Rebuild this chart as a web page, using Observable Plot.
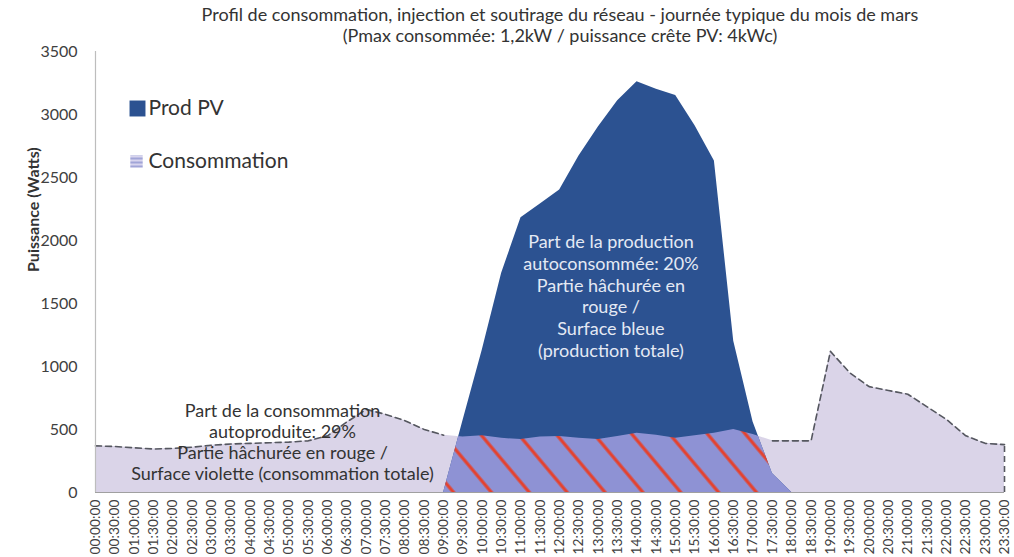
<!DOCTYPE html>
<html><head><meta charset="utf-8">
<script src="https://cdn.jsdelivr.net/npm/d3@7"></script>
<script src="https://cdn.jsdelivr.net/npm/@observablehq/plot@0.6"></script>
<style>
body{margin:0;background:#fff;}
#chart svg{display:block;}
</style></head><body>
<svg width="0" height="0" style="position:absolute">
<defs>
<pattern id="hatch" patternUnits="userSpaceOnUse" width="29" height="29" patternTransform="rotate(-40)">
<rect width="29" height="29" fill="#8e92d4"/>
<line x1="2" y1="0" x2="2" y2="29" stroke="#e5412d" stroke-width="3.2"/>
</pattern>
<pattern id="legendHatch" patternUnits="userSpaceOnUse" width="4" height="4">
<rect width="4" height="4" fill="#d8d5ee"/>
<line x1="0" y1="1" x2="4" y2="1" stroke="#7d86c9" stroke-width="1.2"/>
</pattern>
</defs></svg>
<div id="chart"></div>
<script>
const times = ["00:00:00","00:30:00","01:00:00","01:30:00","02:00:00","02:30:00","03:00:00","03:30:00",
"04:00:00","04:30:00","05:00:00","05:30:00","06:00:00","06:30:00","07:00:00","07:30:00",
"08:00:00","08:30:00","09:00:00","09:30:00","10:00:00","10:30:00","11:00:00","11:30:00",
"12:00:00","12:30:00","13:00:00","13:30:00","14:00:00","14:30:00","15:00:00","15:30:00",
"16:00:00","16:30:00","17:00:00","17:30:00","18:00:00","18:30:00","19:00:00","19:30:00",
"20:00:00","20:30:00","21:00:00","21:30:00","22:00:00","22:30:00","23:00:00","23:30:00"];

// Consommation (W)
const consommation = [370,365,355,345,350,360,375,385,390,395,400,410,450,560,660,620,
570,500,455,440,450,430,420,440,445,430,420,445,470,455,430,450,
470,500,460,410,410,410,1120,950,840,810,780,680,580,450,390,380];

// Production PV (W)
const prodPV = [0,0,0,0,0,0,0,0,0,0,0,0,0,0,0,0,
0,0,0,570,1130,1740,2180,2290,2400,2670,2900,3110,3260,3200,3150,2910,
2630,1200,560,150,0,0,0,0,0,0,0,0,0,0,0,0];

const yTicks = [0,500,1000,1500,2000,2500,3000,3500];

const titre = "Profil de consommation, injection et soutirage du réseau - journée typique du mois de mars\n(Pmax consommée: 1,2kW / puissance crête PV: 4kWc)";
const noteConso = "Part de la consommation\nautoproduite: 29%\nPartie hâchurée en rouge /\nSurface violette (consommation totale)";
const noteProd = "Part de la production\nautoconsommée: 20%\nPartie hâchurée en\nrouge /\nSurface bleue\n(production totale)";
const legendLabels = ["Prod PV", "Consommation"];

const rows = times.map((t, i) => ({i, t, cons: consommation[i], pv: prodPV[i]}));

const chart = Plot.plot({
  width: 1014,
  height: 557,
  marginLeft: 95,
  marginRight: 10,
  marginTop: 51,
  marginBottom: 65,
  x: {domain: [0, times.length - 1], axis: null},
  y: {domain: [0, 3500], axis: null},
  style: {fontFamily: "Lato, sans-serif", background: "#fff", overflow: "visible"},
  marks: [
    Plot.areaY(rows, {x: "i", y: "cons", fill: "#dad4e8"}),
    Plot.areaY(rows, {x: "i", y: "pv", fill: "#2c5291"}),
    Plot.areaY(rows, {x: "i", y: "pv", fill: "url(#hatch)"}),
    Plot.lineY(rows, {x: "i", y: d => d.pv > d.cons ? NaN : d.cons, stroke: "#55575f", strokeWidth: 1.6, strokeDasharray: "6,4"}),
    Plot.ruleX([times.length - 1], {y1: 0, y2: consommation[consommation.length - 1], stroke: "#55575f", strokeWidth: 1.6, strokeDasharray: "6,4"}),
    Plot.ruleY([0], {stroke: "#a0a0a0", strokeWidth: 1.2}),
    Plot.ruleX([0], {y1: 0, y2: 3500, stroke: "#bdbdbd", strokeWidth: 1.2}),
    Plot.axisY({ticks: yTicks, tickFormat: d => String(d), tickSize: 0, tickPadding: 18, fontSize: 16, fill: "#404040", label: null}),
    Plot.axisX({ticks: d3.range(times.length), tickFormat: i => times[i], tickRotate: -90, tickSize: 0, tickPadding: 7, fontSize: 13.8, fill: "#404040", label: null}),
    Plot.text([titre], {text: d => d, frameAnchor: "top", lineAnchor: "middle", dx: 10, dy: -27, fontSize: 18, lineHeight: 1.21, fill: "#333"}),
    Plot.text(["Puissance (Watts)"], {text: d => d, frameAnchor: "left", dx: -62, rotate: -90, fontSize: 16, fontWeight: "bold", fill: "#333"}),
    Plot.text([noteConso], {text: d => d, x: 9.67, y: 400, fontSize: 18, lineHeight: 1.16, fill: "#333"}),
    Plot.text([noteProd], {text: d => d, x: 26.65, y: 1563, fontSize: 18, lineHeight: 1.21, fill: "#e4e9f4"}),
    Plot.dot([legendLabels[0]], {frameAnchor: "top-left", dx: 42, dy: 57, r: 9, symbol: "square", fill: "#2c5291"}),
    Plot.text([legendLabels[0]], {text: d => d, frameAnchor: "top-left", lineAnchor: "middle", dx: 53, dy: 57, textAnchor: "start", fontSize: 21, fill: "#333"}),
    Plot.dot([legendLabels[1]], {frameAnchor: "top-left", dx: 41, dy: 110, r: 7, symbol: "square", fill: "url(#legendHatch)"}),
    Plot.text([legendLabels[1]], {text: d => d, frameAnchor: "top-left", lineAnchor: "middle", dx: 53, dy: 110, textAnchor: "start", fontSize: 21, fill: "#333"})
  ]
});

document.getElementById("chart").appendChild(chart);

// clip the self-consumption hatch (3rd area) to the consumption surface (1st area)
const ns = "http://www.w3.org/2000/svg";
const areas = chart.querySelectorAll('g[aria-label="area"]');
if (areas.length >= 3) {
  const consPath = areas[0].querySelector("path");
  const defs = document.createElementNS(ns, "defs");
  const cp = document.createElementNS(ns, "clipPath");
  cp.setAttribute("id", "consClip");
  const p = document.createElementNS(ns, "path");
  p.setAttribute("d", consPath.getAttribute("d"));
  cp.appendChild(p);
  defs.appendChild(cp);
  chart.insertBefore(defs, chart.firstChild);
  areas[2].setAttribute("clip-path", "url(#consClip)");
}
</script>
</body></html>
